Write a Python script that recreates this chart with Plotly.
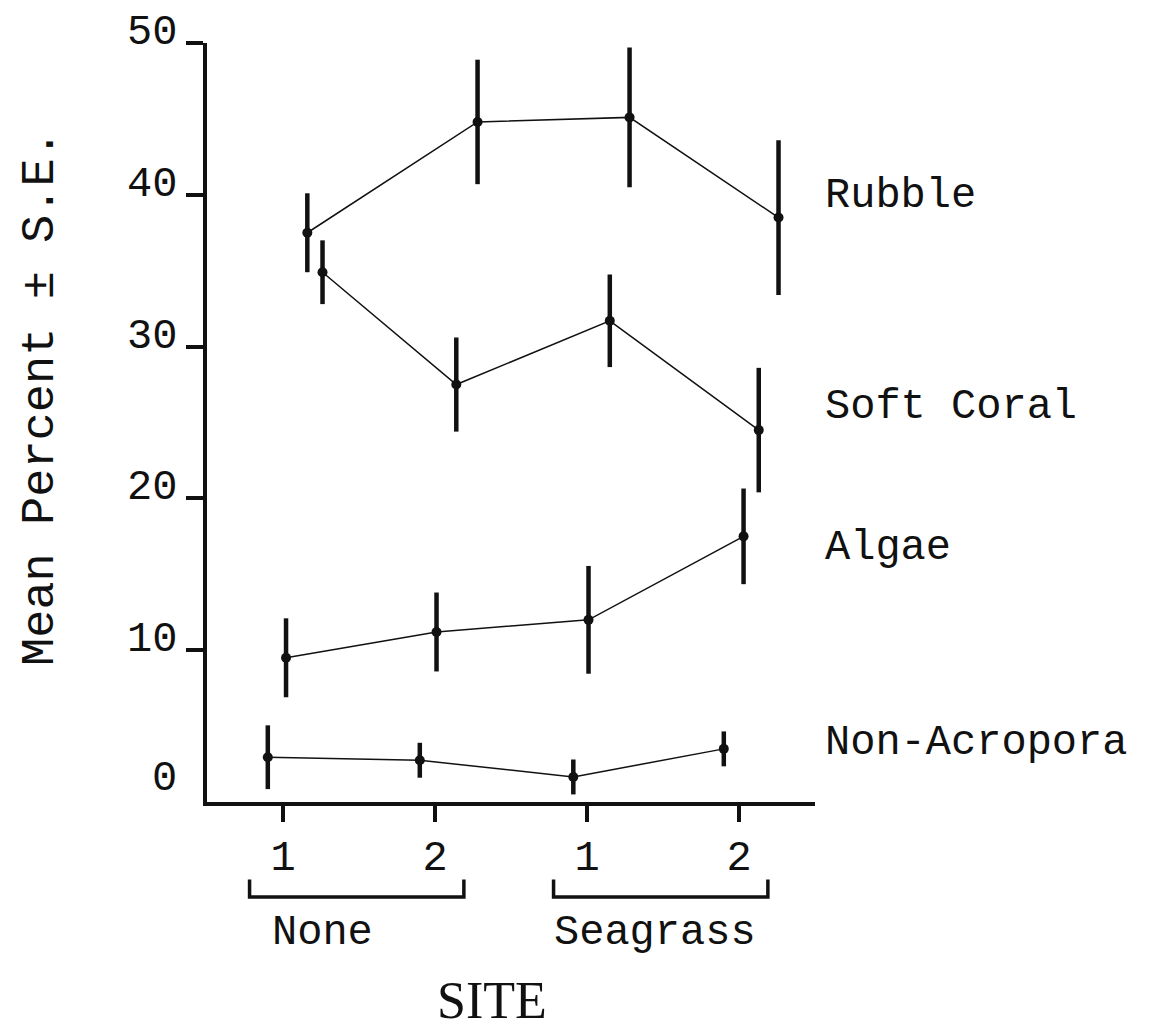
import plotly.graph_objects as go

# ---- data ----
site_pos = [1, 2, 3, 4]
site_labels = ["1", "2", "1", "2"]
groups = ["None", "Seagrass"]
group_centers = [1.26, 3.45]

series_names = ["Rubble", "Soft Coral", "Algae", "Non-Acropora"]
rubble_mean = [37.5, 44.8, 45.1, 38.5]
rubble_se = [2.6, 4.1, 4.6, 5.1]
soft_mean = [34.9, 27.5, 31.7, 24.5]
soft_se = [2.1, 3.1, 3.05, 4.1]
algae_mean = [9.5, 11.2, 12.0, 17.5]
algae_se = [2.6, 2.6, 3.55, 3.15]
nonacr_mean = [2.95, 2.75, 1.65, 3.5]
nonacr_se = [2.1, 1.15, 1.15, 1.15]

# horizontal dodge of each series (style)
rubble_dx = [0.16, 0.28, 0.28, 0.26]
soft_dx = [0.26, 0.14, 0.15, 0.13]
algae_dx = [0.02, 0.01, 0.01, 0.03]
nonacr_dx = [-0.10, -0.10, -0.09, -0.10]

label_y = [39.9, 26.0, 16.7, 3.9]
y_ticks = [0, 10, 20, 30, 40, 50]

MONO = "Liberation Mono, Courier New, monospace"
SERIF = "Liberation Serif, Times New Roman, serif"
INK = "#111111"

fig = go.Figure()
for name, mean, se, dx in [
    ("Rubble", rubble_mean, rubble_se, rubble_dx),
    ("Soft Coral", soft_mean, soft_se, soft_dx),
    ("Algae", algae_mean, algae_se, algae_dx),
    ("Non-Acropora", nonacr_mean, nonacr_se, nonacr_dx),
]:
    xs = [p + d for p, d in zip(site_pos, dx)]
    fig.add_trace(go.Scatter(
        x=xs, y=mean, name=name, mode="lines+markers",
        line=dict(color=INK, width=1.5),
        marker=dict(color=INK, size=10),
        error_y=dict(type="data", array=se, visible=True,
                     thickness=4.5, width=0, color=INK),
        cliponaxis=False, showlegend=False,
    ))

ann = []
# series labels on the right
for name, yv in zip(series_names, label_y):
    ann.append(dict(text=name, xref="paper", x=1.0, xshift=8, xanchor="left",
                    yref="y", y=yv, yanchor="middle", showarrow=False,
                    font=dict(family=MONO, size=42, color=INK)))
# y tick labels
for v in y_ticks:
    ann.append(dict(text=str(v), xref="paper", x=0, xshift=-28, xanchor="right",
                    yref="y", y=v, yanchor="middle", yshift=(23 if v == 0 else 10),
                    showarrow=False, font=dict(family=MONO, size=42, color=INK)))
# group labels
for g, c in zip(groups, group_centers):
    ann.append(dict(text=g, xref="x", x=c, xanchor="center",
                    yref="paper", y=-0.173, yanchor="middle", showarrow=False,
                    font=dict(family=MONO, size=42, color=INK)))
# axis titles
ann.append(dict(text="SITE", xref="x", x=2.375, xanchor="center",
                yref="paper", y=-0.261, yanchor="middle", showarrow=False,
                font=dict(family=SERIF, size=52, color=INK)))
ann.append(dict(text="Mean Percent ± S.E.", xref="paper", x=-0.275, xanchor="center",
                yref="paper", y=0.532, yanchor="middle", textangle=-90, showarrow=False,
                font=dict(family=MONO, size=47, color=INK)))

shapes = []
for lo, hi in [(0.78, 2.19), (2.78, 4.19)]:
    shapes.append(dict(type="path", xref="x", yref="paper",
                       path=f"M {lo},-0.102 L {lo},-0.125 L {hi},-0.125 L {hi},-0.102",
                       line=dict(color=INK, width=3.5)))

fig.update_layout(
    width=1159, height=1034,
    margin=dict(l=199, r=352, t=35, b=240),
    paper_bgcolor="white", plot_bgcolor="white",
    annotations=ann, shapes=shapes,
    xaxis=dict(range=[0.5, 4.5], tickvals=site_pos, ticktext=site_labels,
               showgrid=False, zeroline=False, showline=True, linecolor=INK, linewidth=3.5,
               ticks="outside", ticklen=16, tickwidth=3.5, tickcolor=INK,
               ticklabelstandoff=-2,
               tickfont=dict(family=MONO, size=42, color=INK)),
    yaxis=dict(range=[0, 50], tickvals=[10, 20, 30, 40, 50], showticklabels=False,
               showgrid=False, zeroline=False, showline=True, linecolor=INK, linewidth=3.5,
               ticks="outside", ticklen=17, tickwidth=3.5, tickcolor=INK),
)

fig.write_html("out.html")
